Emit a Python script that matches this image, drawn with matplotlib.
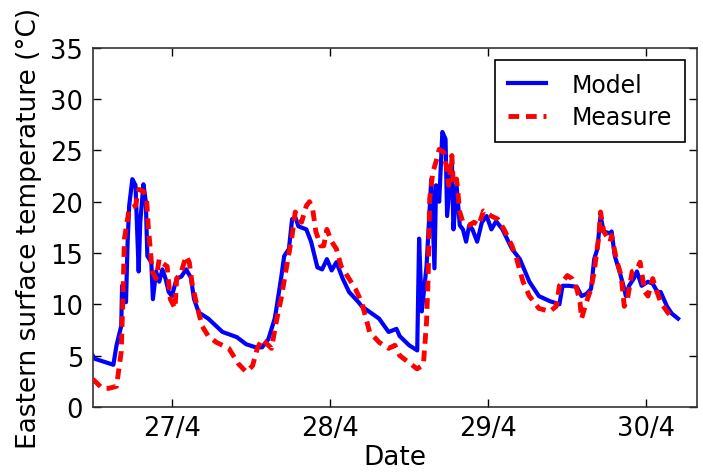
import matplotlib
matplotlib.use("Agg")
import matplotlib.pyplot as plt

# x = day of April (fractional), y = surface temperature in degC
model_day = [26.50, 26.51, 26.63, 26.65, 26.68, 26.685, 26.71, 26.72, 26.73, 26.75,
             26.77, 26.79, 26.80, 26.82, 26.835, 26.845, 26.87, 26.88, 26.90, 26.92,
             26.94, 26.96, 26.98, 27.00, 27.03, 27.06, 27.09, 27.12, 27.14, 27.17,
             27.23, 27.32, 27.41, 27.47, 27.53, 27.57, 27.61, 27.65, 27.66, 27.69,
             27.71, 27.74, 27.76, 27.78, 27.80, 27.85, 27.88, 27.92, 27.95, 27.98,
             28.01, 28.04, 28.08, 28.12, 28.18, 28.20, 28.31, 28.37, 28.42, 28.44,
             28.50, 28.551, 28.563, 28.58, 28.61, 28.64, 28.66, 28.67, 28.69, 28.71,
             28.73, 28.74, 28.77, 28.78, 28.80, 28.82, 28.84, 28.86, 28.88, 28.90,
             28.93, 28.96, 28.99, 29.02, 29.05, 29.09, 29.15, 29.20, 29.26, 29.32,
             29.39, 29.45, 29.47, 29.51, 29.56, 29.59, 29.62, 29.65, 29.67, 29.69,
             29.71, 29.73, 29.77, 29.78, 29.80, 29.83, 29.86, 29.87, 29.89, 29.92,
             29.94, 29.97, 30.01, 30.04, 30.07, 30.09, 30.13, 30.16, 30.20]
model_temp = [5.0, 4.7, 4.1, 6.0, 7.9, 11.8, 10.2, 16.0, 19.6, 22.2,
              21.6, 13.2, 18.0, 21.7, 20.0, 14.7, 14.1, 10.5, 13.2, 12.2,
              13.4, 12.5, 11.2, 10.8, 12.5, 12.7, 13.4, 12.6, 10.5, 9.2,
              8.6, 7.3, 6.8, 6.1, 5.8, 5.8, 6.6, 8.6, 9.5, 12.5,
              14.7, 15.4, 18.3, 18.5, 17.6, 17.3, 16.1, 13.6, 13.4, 14.4,
              13.3, 14.1, 12.5, 11.2, 10.2, 9.8, 8.6, 7.3, 7.6, 6.9,
              6.0, 5.5, 16.4, 9.3, 13.7, 22.2, 13.5, 21.6, 20.0, 26.8,
              26.1, 18.6, 24.2, 17.3, 21.6, 17.7, 17.3, 16.1, 17.7, 17.3,
              16.1, 18.0, 18.6, 17.3, 18.1, 17.3, 15.4, 14.4, 12.2, 10.8,
              10.3, 10.0, 11.8, 11.8, 11.7, 10.8, 11.0, 11.5, 14.4, 15.4,
              18.6, 17.1, 16.9, 17.1, 14.7, 13.2, 11.5, 10.8, 11.8, 12.5,
              13.2, 11.8, 12.2, 12.0, 11.2, 11.2, 9.8, 9.1, 8.6]

measure_day = [26.50, 26.56, 26.60, 26.65, 26.68, 26.69, 26.70, 26.73, 26.77, 26.79,
               26.82, 26.84, 26.85, 26.865, 26.875, 26.90, 26.92, 26.94, 26.97, 26.99,
               27.02, 27.03, 27.06, 27.09, 27.11, 27.13, 27.16, 27.19, 27.23, 27.28,
               27.36, 27.42, 27.47, 27.51, 27.54, 27.57, 27.63, 27.66, 27.69, 27.72,
               27.76, 27.78, 27.82, 27.85, 27.87, 27.89, 27.91, 27.94, 27.96, 27.98,
               28.01, 28.04, 28.07, 28.12, 28.16, 28.20, 28.25, 28.31, 28.37, 28.41,
               28.44, 28.50, 28.55, 28.59, 28.61, 28.62, 28.63, 28.65, 28.67, 28.69,
               28.72, 28.74, 28.75, 28.77, 28.78, 28.80, 28.82, 28.84, 28.88, 28.91,
               28.94, 28.97, 29.02, 29.06, 29.10, 29.15, 29.18, 29.22, 29.26, 29.32,
               29.39, 29.43, 29.45, 29.50, 29.53, 29.56, 29.58, 29.59, 29.62, 29.65,
               29.67, 29.68, 29.70, 29.71, 29.73, 29.77, 29.78, 29.81, 29.84, 29.86,
               29.88, 29.91, 29.94, 29.96, 29.99, 30.01, 30.04, 30.06, 30.09, 30.13,
               30.15]
measure_temp = [2.7, 1.8, 1.8, 2.0, 5.4, 10.5, 16.4, 19.3, 19.6, 21.2,
                21.0, 20.3, 17.7, 15.1, 13.2, 12.5, 14.4, 14.0, 13.7, 10.5,
                9.6, 12.5, 13.2, 14.7, 14.1, 11.8, 9.8, 7.9, 6.9, 6.3,
                5.7, 4.2, 3.4, 4.0, 5.7, 6.6, 5.7, 8.3, 10.5, 13.2,
                16.7, 19.0, 18.0, 19.6, 20.0, 19.3, 17.1, 15.7, 15.7, 17.3,
                16.1, 15.4, 13.7, 12.5, 11.5, 10.2, 7.3, 6.3, 5.7, 6.0,
                5.0, 4.3, 3.7, 4.1, 8.3, 12.5, 20.3, 22.9, 23.9, 25.1,
                24.8, 22.9, 21.6, 24.5, 21.6, 22.2, 19.0, 18.0, 17.7, 18.0,
                17.7, 19.1, 18.6, 18.3, 17.3, 15.7, 14.4, 12.2, 10.8, 9.6,
                9.3, 9.8, 11.8, 12.8, 12.5, 11.5, 10.2, 8.6, 10.2, 11.5,
                13.2, 14.4, 16.7, 19.0, 17.1, 16.1, 16.7, 14.4, 12.8, 9.8,
                10.5, 13.2, 13.4, 14.1, 11.2, 10.8, 12.5, 11.5, 10.2, 9.3,
                8.9]

tick_days = [27, 28, 29, 30]
tick_labels = ["27/4", "28/4", "29/4", "30/4"]

fig = plt.figure(figsize=(7.03, 4.77), dpi=100)
ax = fig.add_axes([0.132, 0.145, 0.8595, 0.7526])

ax.plot(model_day, model_temp, color="#0000ff", lw=3, label="Model", zorder=2)
ax.plot(measure_day, measure_temp, color="#ff0000", lw=3.5,
        linestyle=(0, (2.2, 1.4)), label="Measure", zorder=3)

ax.set_xlim(26.5, 30.32)
ax.set_ylim(0, 35)
ax.set_xticks(tick_days)
ax.set_xticklabels(tick_labels)
ax.set_yticks(range(0, 36, 5))
ax.tick_params(direction="in", top=True, right=True, length=6, width=1,
               labelsize=18.5, colors="black")
ax.tick_params(axis="y", pad=7)
ax.tick_params(axis="x", pad=6)
for s in ax.spines.values():
    s.set_linewidth(1.2)
    s.set_color("#333333")

ax.set_xlabel("Date", fontsize=19, labelpad=2)
ax.set_ylabel("Eastern surface temperature (°C)", fontsize=19, labelpad=6)

leg = ax.legend(loc="upper right", fontsize=17, fancybox=False, framealpha=1,
                edgecolor="black", handlelength=1.6, handletextpad=1.1,
                borderaxespad=0.5, borderpad=0.55, labelspacing=0.35)
leg.get_frame().set_linewidth(1.2)

fig.savefig("out.png", dpi=100)
